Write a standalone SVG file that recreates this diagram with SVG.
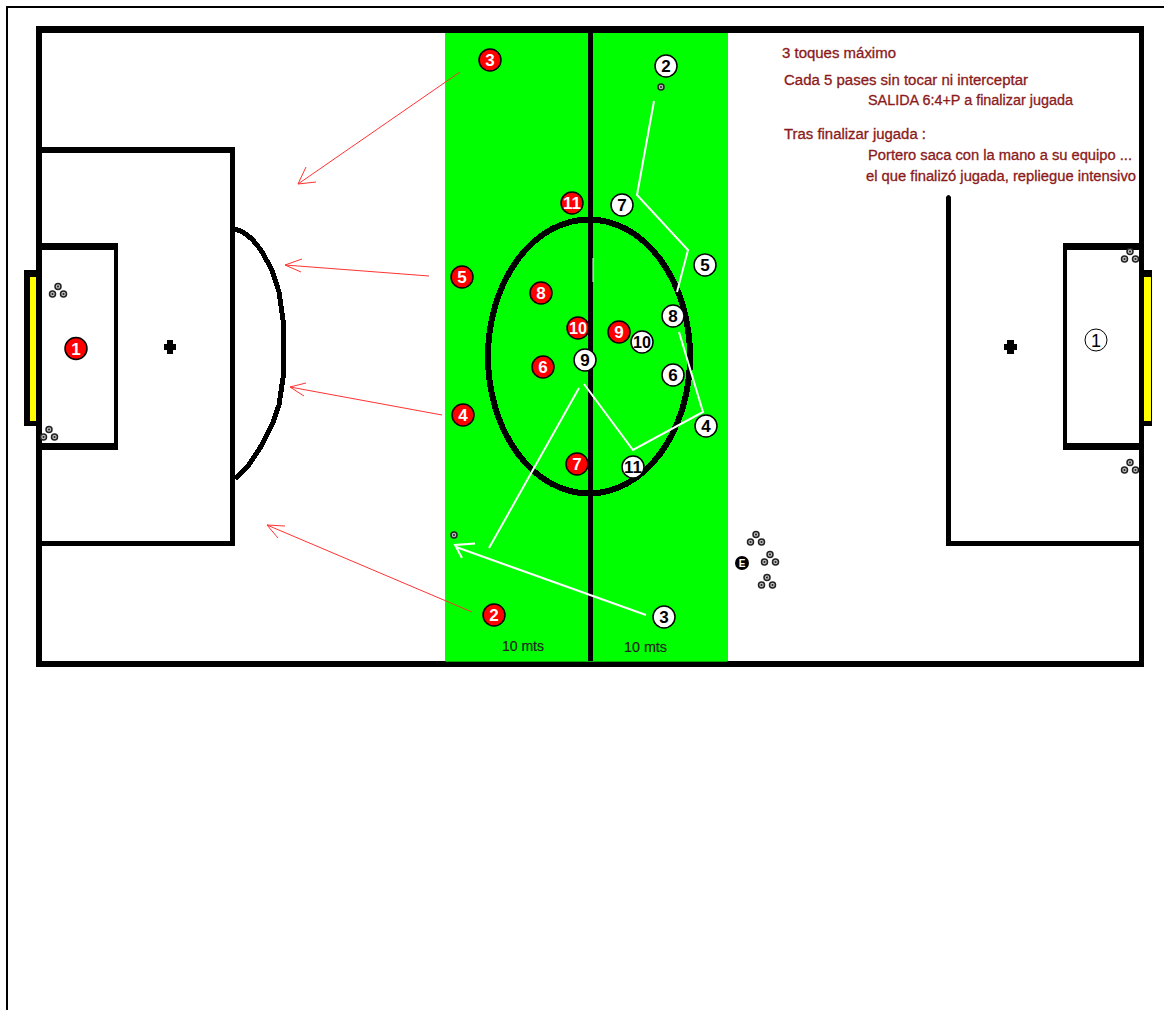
<svg xmlns="http://www.w3.org/2000/svg" width="1164" height="1010" viewBox="0 0 1164 1010">
<style>
.w{fill:none;stroke:#fff;stroke-width:2}
.r{fill:none;stroke:#f33;stroke-width:1}
.rn circle{fill:#f00;stroke:#000;stroke-width:1.500}
.wn circle{fill:#fff;stroke:#000;stroke-width:1.500}
.rn text{fill:#fff;font:bold 17px "Liberation Sans",sans-serif;text-anchor:middle}
.wn text{fill:#000;font:bold 17px "Liberation Sans",sans-serif;text-anchor:middle}
.t{fill:#8b1a1a;font:14px "Liberation Sans",sans-serif;stroke:#8b1a1a;stroke-width:.3}
.m{fill:#222;font:14px "Liberation Sans",sans-serif;stroke:#222;stroke-width:.2}
.k{fill:#000}
</style>
<defs>
<g id="ball"><circle r="3" fill="#bbb" stroke="#222" stroke-width="1.500"/><circle r="1" fill="#222"/></g>
<g id="balls"><use href="#ball" x="0" y="-4.500"/><use href="#ball" x="-5.500" y="3"/><use href="#ball" x="5.500" y="3"/></g>
</defs>
<rect width="1164" height="1010" fill="#fff"/>
<path d="M7 1010V7H1164" fill="none" stroke="#000" stroke-width="2"/>
<g id="pitch">
<rect class="k" x="36" y="26" width="1108" height="7"/>
<rect class="k" x="36" y="661" width="1108" height="6"/>
<rect class="k" x="36" y="26" width="6" height="641"/>
<rect class="k" x="1139" y="26" width="5" height="641"/>
<rect x="445" y="33" width="283" height="628" fill="#0f0"/>
<path d="M445.500 661.500H727.500" stroke="#0a0" stroke-width="1"/>
<path class="k" d="M42 147H235V546H42V541H230V153H42z"/>
<path class="k" d="M42 243H118V450H42V443H114V250H42z"/>
<rect class="k" x="24" y="270" width="12" height="156"/>
<rect x="30" y="277" width="6" height="144" fill="#ff0"/>
<path class="k" d="M946 197Q948.500 193 951 197V541H1139V546H946z"/>
<path class="k" d="M1139 243H1063V450H1139V443H1067V250H1139z"/>
<rect class="k" x="1144" y="270" width="8" height="156"/>
<rect x="1144" y="277" width="7" height="144" fill="#ff0"/>
<rect class="k" x="588" y="33" width="5" height="628"/>
<ellipse cx="589" cy="356.500" rx="101" ry="137" fill="none" stroke="#000" stroke-width="6" shape-rendering="crispEdges"/>
<path d="M235 229Q250 233 262 252L272 270L279 292L283 320V378L279 405L272 425L260 448L248 466L235 479" fill="none" stroke="#000" stroke-width="5" shape-rendering="crispEdges"/>
<path class="k" d="M164 344h3v-4h6v4h3v6h-3v4h-6v-4h-3z"/>
<path class="k" d="M1004 344h3v-4h7v4h3v6h-3v4h-7v-4h-3z"/>
</g>
<g id="connectors">
<path class="r" d="M460 72L298 184M316 182L298 184L306 167"/>
<path class="r" d="M429 276L285 265M302 259L285 265L301 272"/>
<path class="r" d="M442 415L290 387M306 383L290 387L304 396"/>
<path class="r" d="M472 612L267 525M285 526L267 525L278 538"/>
<path class="w" d="M654 101L637 195L688 250L677 292"/>
<path class="w" d="M679 332L703 412L633 450L584 384"/>
<path class="w" d="M579 388L489 548"/>
<path class="w" d="M646 615L456 547M475 543.500L455 545L462 558" stroke-width="2.500"/>
<path d="M593 258V282" stroke="#dfd" stroke-width="1"/>
</g>
<use href="#balls" x="58" y="291"/>
<use href="#balls" x="49" y="434"/>
<use href="#balls" x="1130" y="256"/>
<use href="#balls" x="1130" y="467"/>
<use href="#balls" x="756" y="539"/>
<use href="#balls" x="770" y="559"/>
<use href="#balls" x="767" y="582"/>
<use href="#ball" x="661" y="87"/>
<use href="#ball" x="454" y="535"/>
<g id="red-1" class="rn"><circle cx="76" cy="348.500" r="11"/><text x="76" y="354.500">1</text></g>
<g id="red-2" class="rn"><circle cx="494" cy="615" r="11"/><text x="494" y="621">2</text></g>
<g id="red-3" class="rn"><circle cx="490" cy="60" r="11"/><text x="490" y="66">3</text></g>
<g id="red-4" class="rn"><circle cx="463" cy="415" r="11"/><text x="463" y="421">4</text></g>
<g id="red-5" class="rn"><circle cx="462" cy="277" r="11"/><text x="462" y="283">5</text></g>
<g id="red-6" class="rn"><circle cx="543" cy="367" r="11"/><text x="543" y="373">6</text></g>
<g id="red-7" class="rn"><circle cx="577" cy="464" r="11"/><text x="577" y="470">7</text></g>
<g id="red-8" class="rn"><circle cx="541" cy="293" r="11"/><text x="541" y="299">8</text></g>
<g id="red-9" class="rn"><circle cx="619" cy="332" r="11"/><text x="619" y="338">9</text></g>
<g id="red-10" class="rn"><circle cx="578" cy="328" r="11"/><text x="578" y="334" textLength="18" lengthAdjust="spacingAndGlyphs">10</text></g>
<g id="red-11" class="rn"><circle cx="572" cy="203" r="11"/><text x="572" y="209" textLength="18" lengthAdjust="spacingAndGlyphs">11</text></g>
<g id="white-1" class="wn"><circle cx="1096" cy="340" r="11" style="stroke-width:1"/><text x="1096" y="346.500" style="font-weight:normal;font-size:18px">1</text></g>
<g id="white-2" class="wn"><circle cx="666" cy="66" r="11"/><text x="666" y="72">2</text></g>
<g id="white-3" class="wn"><circle cx="664" cy="617" r="11"/><text x="664" y="623">3</text></g>
<g id="white-4" class="wn"><circle cx="706" cy="426" r="11"/><text x="706" y="432">4</text></g>
<g id="white-5" class="wn"><circle cx="705" cy="265" r="11"/><text x="705" y="271">5</text></g>
<g id="white-6" class="wn"><circle cx="673" cy="375" r="11"/><text x="673" y="381">6</text></g>
<g id="white-7" class="wn"><circle cx="622" cy="205" r="11"/><text x="622" y="211">7</text></g>
<g id="white-8" class="wn"><circle cx="673" cy="316" r="11"/><text x="673" y="322">8</text></g>
<g id="white-9" class="wn"><circle cx="585" cy="360" r="11"/><text x="585" y="366">9</text></g>
<g id="white-10" class="wn"><circle cx="642" cy="342" r="11"/><text x="642" y="348" textLength="18" lengthAdjust="spacingAndGlyphs">10</text></g>
<g id="white-11" class="wn"><circle cx="633" cy="467" r="11"/><text x="633" y="473" textLength="18" lengthAdjust="spacingAndGlyphs">11</text></g>
<g id="node-e"><circle cx="742" cy="563" r="7" fill="#000"/><text x="742" y="567" fill="#fff" font-family="Liberation Sans, sans-serif" font-size="10" font-weight="bold" text-anchor="middle">E</text></g>
<g id="notes">
<text class="t" x="782" y="58" textLength="114" lengthAdjust="spacingAndGlyphs">3 toques máximo</text>
<text class="t" x="784" y="85" textLength="244" lengthAdjust="spacingAndGlyphs">Cada 5 pases sin tocar ni interceptar</text>
<text class="t" x="868" y="105" textLength="205" lengthAdjust="spacingAndGlyphs">SALIDA 6:4+P a finalizar jugada</text>
<text class="t" x="784" y="139" textLength="142" lengthAdjust="spacingAndGlyphs">Tras finalizar jugada :</text>
<text class="t" x="868" y="160" textLength="264" lengthAdjust="spacingAndGlyphs">Portero saca con la mano a su equipo ...</text>
<text class="t" x="866" y="181" textLength="270" lengthAdjust="spacingAndGlyphs">el que finalizó jugada, repliegue intensivo</text>
<text class="m" x="502" y="651" textLength="42" lengthAdjust="spacingAndGlyphs">10 mts</text>
<text class="m" x="624" y="652" textLength="43" lengthAdjust="spacingAndGlyphs">10 mts</text>
</g>
</svg>
